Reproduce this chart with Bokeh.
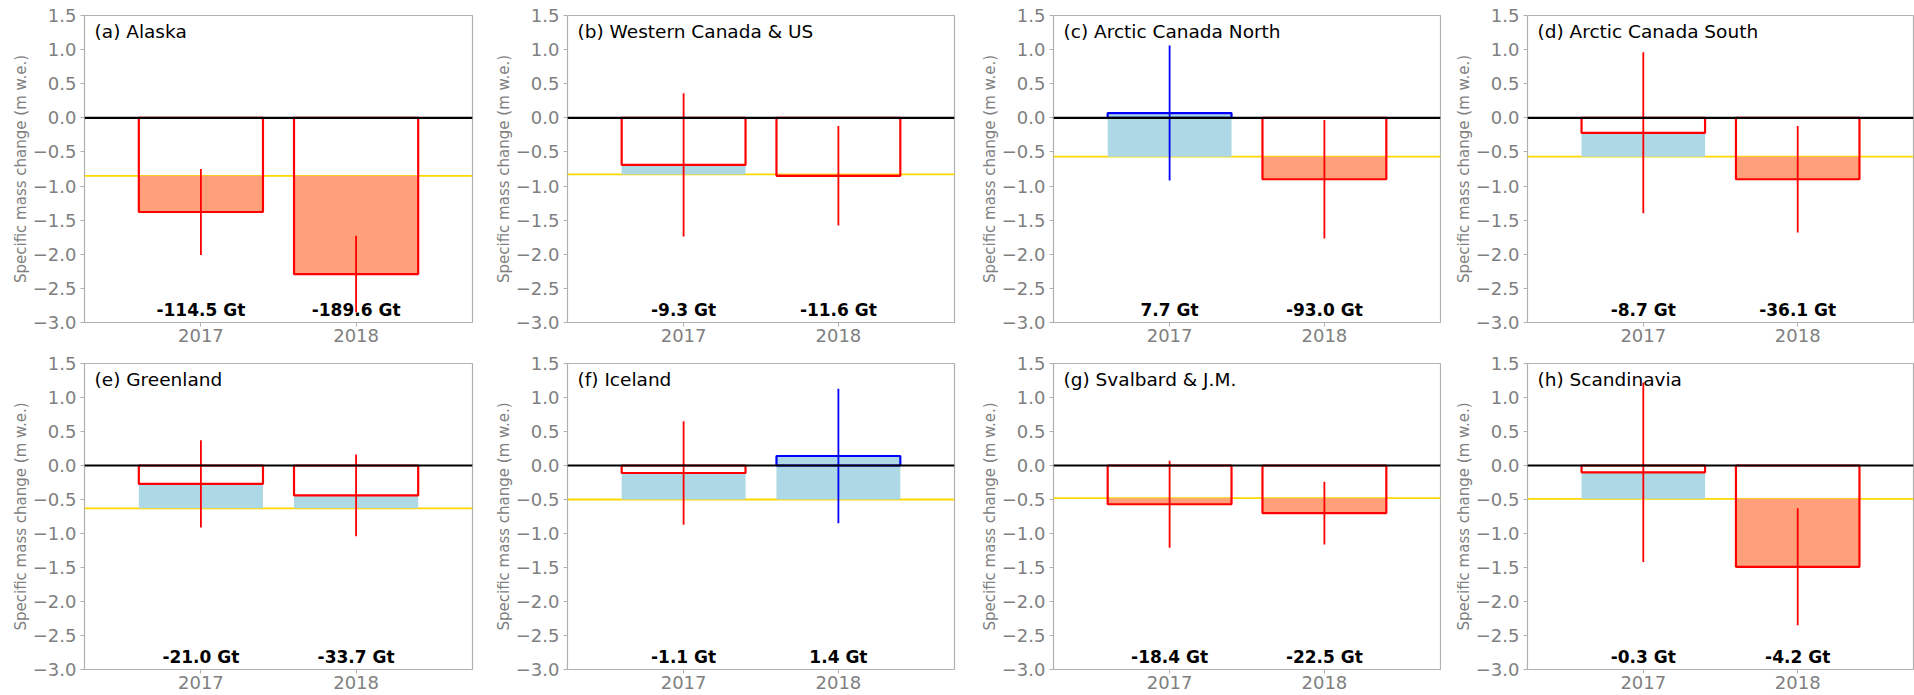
from bokeh.plotting import figure
from bokeh.models import FixedTicker, Span, Label, ColumnDataSource, Range1d
from bokeh.layouts import row, column
from bokeh.embed import file_html
from bokeh.resources import INLINE

# ---------------- data ----------------
years = [2017, 2018]
year_labels = ["2017", "2018"]
regions = ["(a) Alaska", "(b) Western Canada & US", "(c) Arctic Canada North",
           "(d) Arctic Canada South", "(e) Greenland", "(f) Iceland",
           "(g) Svalbard & J.M.", "(h) Scandinavia"]
baseline = [-0.85, -0.83, -0.57, -0.57, -0.63, -0.50, -0.48, -0.49]
v2017 = [-1.38, -0.69, 0.07, -0.22, -0.27, -0.11, -0.57, -0.10]
v2018 = [-2.29, -0.85, -0.90, -0.90, -0.44, 0.14, -0.70, -1.49]
e2017 = [0.63, 1.05, 0.99, 1.18, 0.64, 0.76, 0.64, 1.32]
e2018 = [0.56, 0.73, 0.87, 0.78, 0.60, 0.99, 0.46, 0.86]
gt2017 = ["-114.5 Gt", "-9.3 Gt", "7.7 Gt", "-8.7 Gt", "-21.0 Gt", "-1.1 Gt", "-18.4 Gt", "-0.3 Gt"]
gt2018 = ["-189.6 Gt", "-11.6 Gt", "-93.0 Gt", "-36.1 Gt", "-33.7 Gt", "1.4 Gt", "-22.5 Gt", "-4.2 Gt"]
yticks = [-3.0, -2.5, -2.0, -1.5, -1.0, -0.5, 0.0, 0.5, 1.0, 1.5]
ytick_labels = ["\u22123.0", "\u22122.5", "\u22122.0", "\u22121.5", "\u22121.0", "\u22120.5",
                "0.0", "0.5", "1.0", "1.5"]
ylabel = "Specific mass change (m w.e.)"

# ---------------- layout constants ----------------
col_widths = [480, 486, 475, 473]
border_left = [84, 87, 87, 86]
border_right = [8, 12, 1, 1]
row_heights = [349, 345]
border_top = [15, 14]
border_bottom = [27, 25]

FONT = "DejaVu Sans"
GREY_TXT = "#7f7f7f"
GREY_LINE = "#b0b0b0"
BAR_W = 0.8


def make_panel(i, r, c):
    p = figure(width=col_widths[c], height=row_heights[r],
               x_range=Range1d(2016.25, 2018.75), y_range=Range1d(-3.0, 1.5),
               output_backend="svg", toolbar_location=None, tools="",
               min_border_left=border_left[c], min_border_right=border_right[c],
               min_border_top=border_top[r], min_border_bottom=border_bottom[r])
    p.grid.visible = False
    p.outline_line_color = GREY_LINE
    p.outline_line_width = 1.2
    p.background_fill_color = "white"
    p.border_fill_color = "white"

    vals = [v2017[i], v2018[i]]
    errs = [e2017[i], e2018[i]]
    base = baseline[i]
    fill_cols = ["#ADD8E6" if v > base else "#FFA07A" for v in vals]
    edge_cols = ["#0000FF" if v > 0 else "#FF0000" for v in vals]

    src = ColumnDataSource(dict(
        left=[y - BAR_W / 2 for y in years],
        right=[y + BAR_W / 2 for y in years],
        val=vals,
        base=[base, base],
        zero=[0.0, 0.0],
        x=years,
        lo=[v - e for v, e in zip(vals, errs)],
        hi=[v + e for v, e in zip(vals, errs)],
        fill=fill_cols,
        edge=edge_cols,
        gt=[gt2017[i], gt2018[i]],
        gty=[-2.82, -2.82],
    ))

    # anomaly fill between baseline and value
    p.quad(left="left", right="right", bottom="base", top="val", source=src,
           fill_color="fill", line_color=None)
    # baseline (gold)
    p.add_layout(Span(location=base, dimension="width", line_color="#FFD700",
                      line_width=1.8, level="underlay"))
    # outline bar from 0 to value
    p.quad(left="left", right="right", bottom="zero", top="val", source=src,
           fill_color=None, line_color="edge", line_width=2.2)
    # error bars
    p.segment(x0="x", y0="lo", x1="x", y1="hi", source=src,
              line_color="edge", line_width=1.8)
    # zero line
    p.add_layout(Span(location=0, dimension="width", line_color="black",
                      line_width=2.2))
    # Gt labels
    p.text(x="x", y="gty", text="gt", source=src, text_align="center",
           text_baseline="middle", text_font_size="17px", text_font_style="bold",
           text_color="black", text_font={"value": FONT})
    # panel title
    p.add_layout(Label(x=2016.315, y=1.26, text=regions[i], text_baseline="middle",
                       text_align="left", text_font_size="18.5px", text_color="black",
                       text_font=FONT))

    # axes
    p.xaxis.ticker = FixedTicker(ticks=years)
    p.xaxis.major_label_overrides = {y: l for y, l in zip(years, year_labels)}
    p.yaxis.ticker = FixedTicker(ticks=yticks)
    p.yaxis.major_label_overrides = {t: l for t, l in zip(yticks, ytick_labels)}
    for ax in (p.xaxis[0], p.yaxis[0]):
        ax.axis_line_color = None
        ax.major_tick_line_color = GREY_LINE
        ax.major_tick_out = 4
        ax.major_tick_in = 0
        ax.minor_tick_line_color = None
        ax.major_label_text_color = GREY_TXT
        ax.major_label_text_font = FONT
        ax.major_label_text_font_size = "18px"
    p.xaxis.major_label_standoff = 2
    p.yaxis.major_label_standoff = 4
    p.yaxis.axis_label = ylabel
    p.yaxis.axis_label_text_font = FONT
    p.yaxis.axis_label_text_font_size = "15px"
    p.yaxis.axis_label_text_font_style = "normal"
    p.yaxis.axis_label_text_color = GREY_TXT
    p.yaxis.axis_label_standoff = 0
    return p


rows = []
for r in range(2):
    figs = [make_panel(r * 4 + c, r, c) for c in range(4)]
    rows.append(row(*figs, spacing=0))
layout = column(*rows, spacing=0)

open("out.html", "w").write(file_html(layout, INLINE))
